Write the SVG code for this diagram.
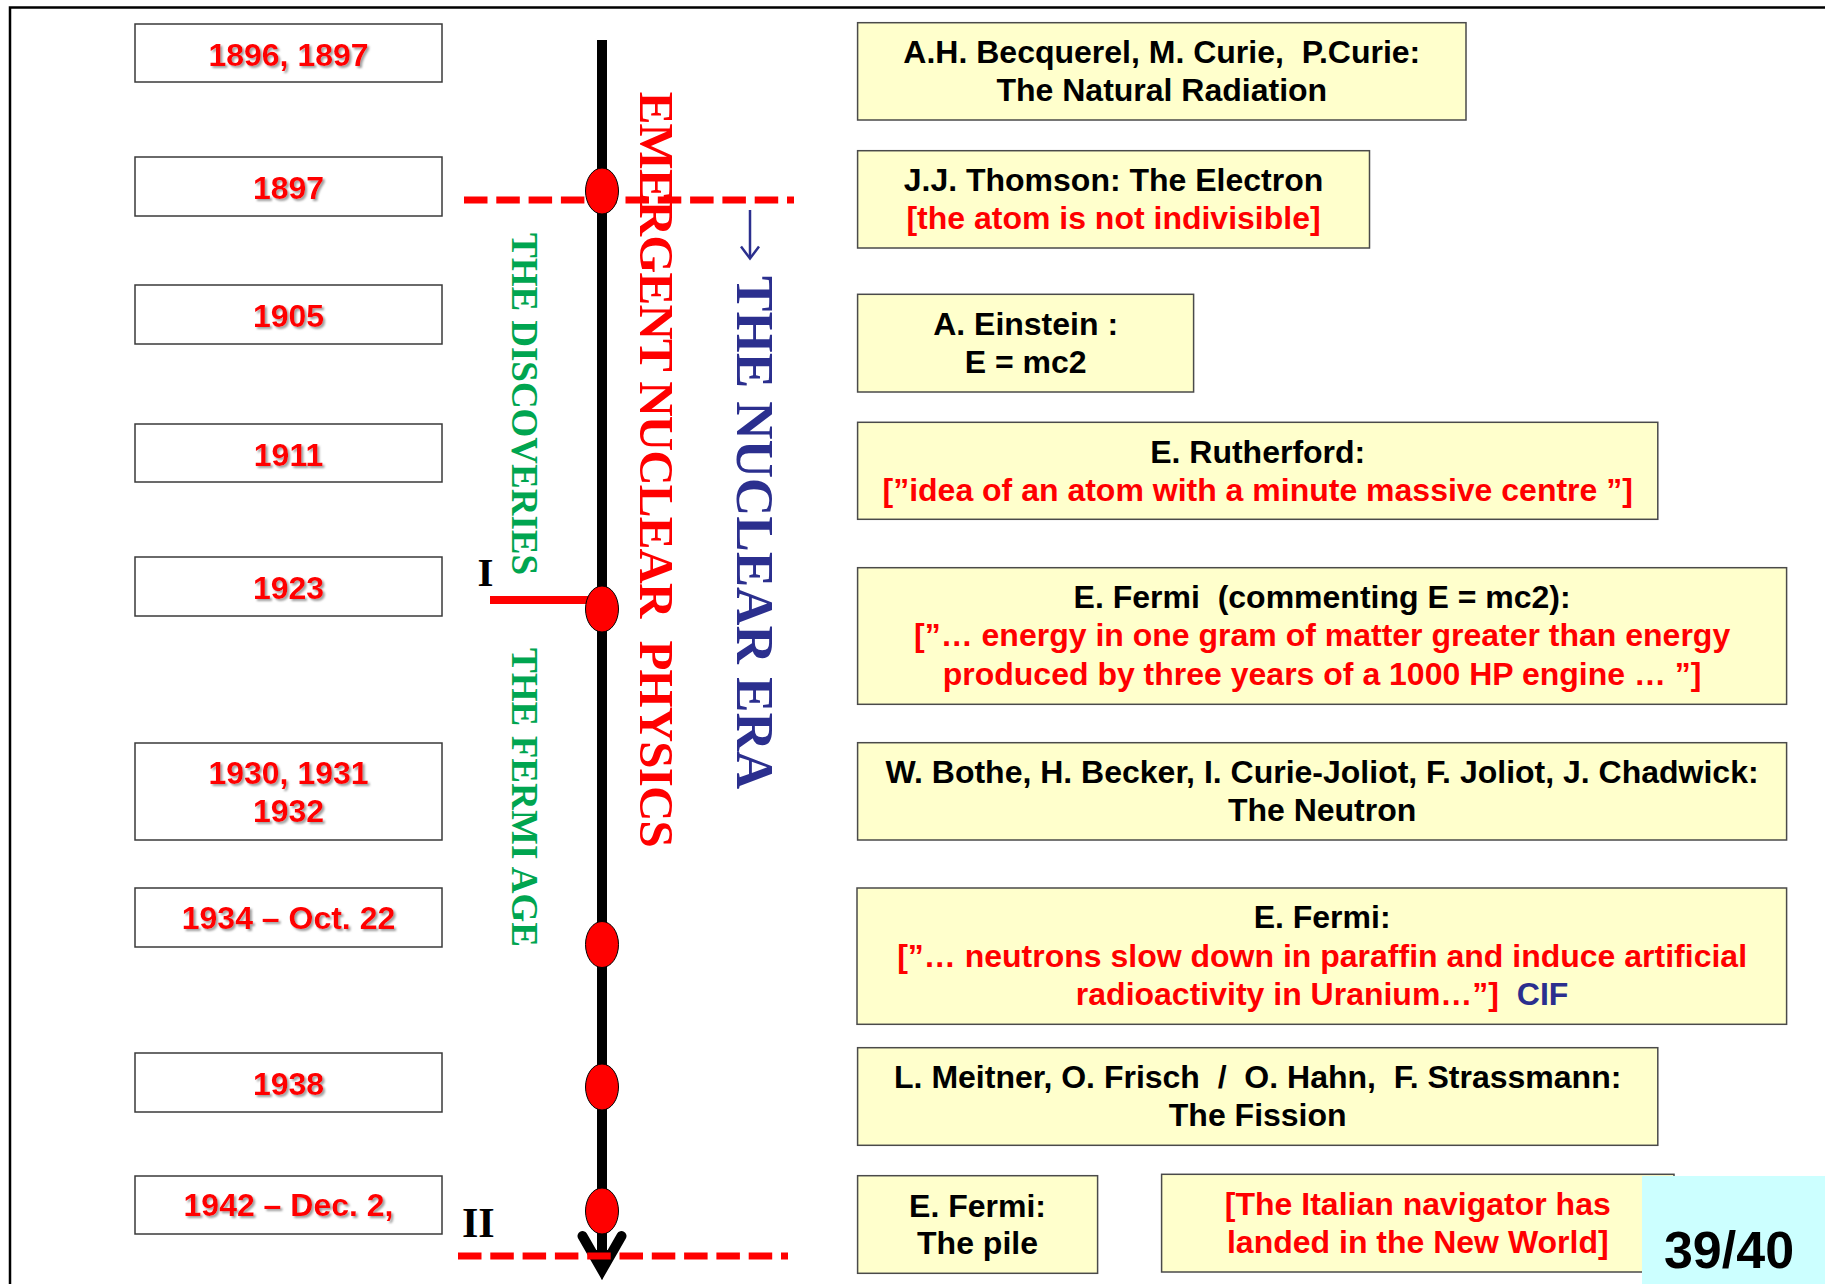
<svg xmlns="http://www.w3.org/2000/svg" width="1825" height="1284" viewBox="0 0 1825 1284">
  <defs>
    <style>
      .yr rect { fill: #ffffff; stroke: #3a3a3a; stroke-width: 1.5; }
      .yr text { font-family: "Liberation Sans", Arial, sans-serif; font-weight: bold; font-size: 32px; fill: #ff0000; text-anchor: middle; filter: url(#soft); }
      .ev rect { fill: #ffffcc; stroke: #4a4a4a; stroke-width: 1.5; }
      .ev text { font-family: "Liberation Sans", Arial, sans-serif; font-weight: bold; font-size: 32px; fill: #000000; text-anchor: middle; white-space: pre; }
      .ev text.red { fill: #ff0000; }
      .navy { fill: #2b2f8e; }
      .vt { font-family: "Liberation Serif", "Times New Roman", serif; font-weight: bold; white-space: pre; }
      .roman { font-family: "Liberation Serif", "Times New Roman", serif; font-weight: bold; fill: #000000; }
      .dash { fill: none; stroke: #ff0000; stroke-width: 7; stroke-dasharray: 23.5 8.8; }
      .dot ellipse { fill: #ff0000; stroke: #000000; stroke-width: 1; }
    </style>
    <filter id="soft" x="-10%" y="-30%" width="125%" height="170%">
      <feDropShadow dx="2" dy="2" stdDeviation="1" flood-color="#7f7f7f" flood-opacity="0.75"/>
    </filter>
    <marker id="arrowEnd" markerUnits="userSpaceOnUse" orient="auto" viewBox="-45 -35 70 70" refX="0" refY="0" markerWidth="70" markerHeight="70">
      <path d="M-30,-19.5 L4,0 L-30,19.5" fill="none" stroke="#000000" stroke-width="10" stroke-linecap="round" stroke-linejoin="miter"/>
      <path d="M-16,-11 L14,0 L-16,11 Z" fill="#000000"/>
    </marker>
  </defs>

  <!-- page frame -->
  <path d="M10,1284 V7.5 H1825" fill="none" stroke="#000000" stroke-width="2.5"/>

  <!-- timeline, era dividers and the Fermi-age marker -->
  <g id="connectors">
    <line id="timeline" x1="602" y1="40" x2="602" y2="1266" stroke="#000000" stroke-width="10" marker-end="url(#arrowEnd)"/>
    <line id="divider-1897" class="dash" x1="464" y1="200" x2="794" y2="200"/>
    <line id="divider-1942" class="dash" x1="458" y1="1256" x2="788" y2="1256"/>
    <line id="mark-1923" x1="490" y1="600" x2="590" y2="600" stroke="#ff0000" stroke-width="8"/>
  </g>

  <!-- event points on the timeline -->
  <g id="points" class="dot">
    <ellipse id="pt-1897" cx="602" cy="191" rx="16.5" ry="23"/>
    <ellipse id="pt-1923" cx="602" cy="609" rx="16.5" ry="23"/>
    <ellipse id="pt-1934" cx="602" cy="944.5" rx="16.5" ry="23"/>
    <ellipse id="pt-1938" cx="602" cy="1087" rx="16.5" ry="23"/>
    <ellipse id="pt-1942" cx="602" cy="1211" rx="16.5" ry="23"/>
  </g>

  <!-- period labels -->
  <g id="labels">
    <text class="vt" transform="translate(511.5,233) rotate(90)" fill="#00a550" font-size="37" textLength="342" lengthAdjust="spacing">THE DISCOVERIES</text>
    <text class="vt" transform="translate(511.5,648) rotate(90)" fill="#00a550" font-size="37" textLength="299" lengthAdjust="spacing">THE FERMI AGE</text>
    <text class="vt" transform="translate(640,91.7) rotate(90)" fill="#ff0000" font-size="49" textLength="756" lengthAdjust="spacing">EMERGENT NUCLEAR  PHYSICS</text>
    <text class="vt navy" transform="translate(736.5,276) rotate(90)" font-size="53" textLength="513" lengthAdjust="spacing">THE NUCLEAR ERA</text>
    <!-- small downward arrow leading into the era label -->
    <g id="era-arrow" fill="none" stroke="#2b2f8e" stroke-width="2.5">
      <line x1="750" y1="210" x2="750" y2="257"/>
      <path d="M741,246.5 L750,258.5 L759,246.5" stroke-linejoin="miter"/>
    </g>
    <text class="roman" x="477.5" y="585.7" font-size="41">I</text>
    <text class="roman" x="462" y="1237" font-size="42">II</text>
  </g>

  <!-- year boxes -->
  <g id="year-1896" class="yr"><rect x="135" y="24" width="307" height="58"/><text x="288.5" y="65.5">1896, 1897</text></g>
  <g id="year-1897" class="yr"><rect x="135" y="157" width="307" height="59"/><text x="288.5" y="199">1897</text></g>
  <g id="year-1905" class="yr"><rect x="135" y="285" width="307" height="59"/><text x="288.5" y="327">1905</text></g>
  <g id="year-1911" class="yr"><rect x="135" y="424" width="307" height="58"/><text x="288.5" y="465.5">1911</text></g>
  <g id="year-1923" class="yr"><rect x="135" y="557" width="307" height="59"/><text x="288.5" y="599">1923</text></g>
  <g id="year-1930" class="yr"><rect x="135" y="743" width="307" height="97"/><text x="288.5" y="784">1930, 1931</text><text x="288.5" y="821.7">1932</text></g>
  <g id="year-1934" class="yr"><rect x="135" y="888" width="307" height="59"/><text x="288.5" y="929">1934 – Oct. 22</text></g>
  <g id="year-1938" class="yr"><rect x="135" y="1053" width="307" height="59"/><text x="288.5" y="1095">1938</text></g>
  <g id="year-1942" class="yr"><rect x="135" y="1176" width="307" height="58"/><text x="288.5" y="1216">1942 – Dec. 2,</text></g>

  <!-- event boxes -->
  <g id="ev-radiation" class="ev">
    <rect x="857.6" y="22.7" width="608.4" height="97.3"/>
    <text x="1161.8" y="63.3">A.H. Becquerel, M. Curie,  P.Curie:</text>
    <text x="1161.8" y="101">The Natural Radiation</text>
  </g>
  <g id="ev-electron" class="ev">
    <rect x="857.6" y="150.7" width="511.9" height="97.3"/>
    <text x="1113.5" y="191.2">J.J. Thomson: The Electron</text>
    <text class="red" x="1113.5" y="229">[the atom is not indivisible]</text>
  </g>
  <g id="ev-einstein" class="ev">
    <rect x="857.6" y="294.3" width="336" height="97.7"/>
    <text x="1025.6" y="335">A. Einstein :</text>
    <text x="1025.6" y="372.6">E = mc2</text>
  </g>
  <g id="ev-rutherford" class="ev">
    <rect x="857.6" y="422.3" width="800.2" height="97"/>
    <text x="1257.7" y="463">E. Rutherford:</text>
    <text class="red" x="1257.7" y="501">[”idea of an atom with a minute massive centre ”]</text>
  </g>
  <g id="ev-fermi-energy" class="ev">
    <rect x="857.6" y="567.7" width="929" height="136.6"/>
    <text x="1322.1" y="608.3">E. Fermi  (commenting E = mc2):</text>
    <text class="red" x="1322.1" y="646.3">[”… energy in one gram of matter greater than energy</text>
    <text class="red" x="1322.1" y="684.5">produced by three years of a 1000 HP engine … ”]</text>
  </g>
  <g id="ev-neutron" class="ev">
    <rect x="857.6" y="742.7" width="929" height="97.3"/>
    <text x="1322.1" y="783">W. Bothe, H. Becker, I. Curie-Joliot, F. Joliot, J. Chadwick:</text>
    <text x="1322.1" y="821">The Neutron</text>
  </g>
  <g id="ev-slow-neutrons" class="ev">
    <rect x="857" y="888" width="929.6" height="136.3"/>
    <text x="1322.1" y="928.3">E. Fermi:</text>
    <text class="red" x="1322.1" y="966.8">[”… neutrons slow down in paraffin and induce artificial</text>
    <text class="red" x="1322.1" y="1005">radioactivity in Uranium…”]  <tspan class="navy">CIF</tspan></text>
  </g>
  <g id="ev-fission" class="ev">
    <rect x="857.6" y="1047.7" width="800.2" height="97.6"/>
    <text x="1257.7" y="1088.4">L. Meitner, O. Frisch  /  O. Hahn,  F. Strassmann:</text>
    <text x="1257.7" y="1126">The Fission</text>
  </g>
  <g id="ev-pile" class="ev">
    <rect x="857.6" y="1175.7" width="240" height="97.6"/>
    <text x="977.5" y="1216.7">E. Fermi:</text>
    <text x="977.5" y="1254.3">The pile</text>
  </g>
  <g id="ev-navigator" class="ev">
    <rect x="1161.6" y="1174.3" width="512.4" height="97.7"/>
    <text class="red" x="1417.8" y="1215">[The Italian navigator has</text>
    <text class="red" x="1417.8" y="1252.5">landed in the New World]</text>
  </g>

  <!-- page number -->
  <g id="page-number">
    <rect x="1642" y="1176" width="183" height="108" fill="#ccffff"/>
    <text x="1729" y="1268" font-family="Liberation Sans, Arial, sans-serif" font-weight="bold" font-size="52" text-anchor="middle" fill="#000000">39/40</text>
  </g>
</svg>
